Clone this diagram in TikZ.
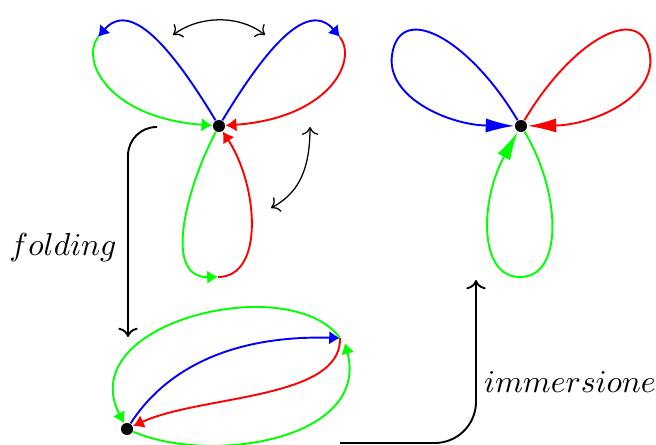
\documentclass[tikz,border=0pt]{standalone}
\usetikzlibrary{arrows.meta}

\definecolor{loopBlue}{HTML}{0000FF}
\definecolor{loopRed}{HTML}{FF0000}
\definecolor{loopGreen}{HTML}{00FF00}

\begin{document}
\begin{tikzpicture}[x=0.315pt,y=-0.315pt,
  vertex/.style={circle,fill=black,inner sep=0pt,minimum size=3.8pt},
  arc/.style={semithick,-{Latex[length=3.4pt,width=4.3pt]}},
  bigarc/.style={semithick,-{Latex[length=9pt,width=4.5pt]}},
  swap/.style={thin,<->},
  map/.style={semithick,->}]

  \useasboundingbox (0,0) rectangle (656,444);

  % Bouquet (left)
  \node[vertex] (vL) at (219,126) {};
  \coordinate (jUL) at (98,37);
  \coordinate (jUR) at (340,37);
  \coordinate (jB) at (218,277);

  \draw[arc,loopBlue] (vL) .. controls (170,45) and (130,0) .. (jUL);
  \draw[arc,loopGreen] (jUL) .. controls (80,62) and (110,118) .. (vL);
  \draw[arc,loopBlue] (vL) .. controls (268,45) and (308,0) .. (jUR);
  \draw[arc,loopRed] (jUR) .. controls (358,62) and (328,118) .. (vL);
  \draw[arc,loopGreen] (vL) .. controls (190,180) and (160,278) .. (jB);
  \draw[arc,loopRed] (jB) .. controls (265,277) and (258,185) .. (vL);

  % Swaps
  \coordinate (sA) at (173,35);
  \coordinate (sB) at (265,35);
  \coordinate (sC) at (310,127);
  \coordinate (sD) at (271,208);
  \draw[swap] (sA) .. controls (200,15) and (240,15) .. (sB);
  \draw[swap] (sC) .. controls (310,175) and (295,195) .. (sD);

  % Bouquet (right)
  \node[vertex] (vR) at (521,126) {};
  \coordinate (kL) at (392,55);
  \coordinate (kR) at (650,55);
  \coordinate (kB) at (520,277);

  \draw[bigarc,loopBlue] (vR) .. controls (470,40) and (400,0) .. (kL)
    .. controls (386,98) and (450,125) .. (vR);
  \draw[bigarc,loopRed] (vR) .. controls (572,40) and (642,0) .. (kR)
    .. controls (656,98) and (592,125) .. (vR);
  \draw[bigarc,loopGreen] (vR) .. controls (560,190) and (565,277) .. (kB)
    .. controls (478,277) and (480,200) .. (vR);

  % Folded graph (bottom)
  \node[vertex] (vB) at (127,429) {};
  \coordinate (jE) at (340,338);
  \coordinate (jF) at (345,343);

  \draw[arc,loopBlue] (vB) .. controls (165,370) and (230,335) .. (jE);
  \draw[arc,loopRed] (jE) .. controls (342,400) and (200,395) .. (vB);
  \draw[arc,loopGreen] (vB) .. controls (210,465) and (370,440) .. (jF);
  \draw[arc,loopGreen] (jE) .. controls (290,270) and (72,322) .. (vB);

  % Maps
  \coordinate (fStart) at (157,127);
  \coordinate (fEnd) at (128,337);
  \draw[map,rounded corners=9pt] (fStart) -| (fEnd);
  \node (lblFold) at (63,248) {$folding$};

  \coordinate (iStart) at (340,443);
  \coordinate (iEnd) at (476,280);
  \draw[map,rounded corners=13pt] (iStart) -| (iEnd);
  \node (lblImm) at (570,382) {$immersione$};

\end{tikzpicture}
\end{document}
